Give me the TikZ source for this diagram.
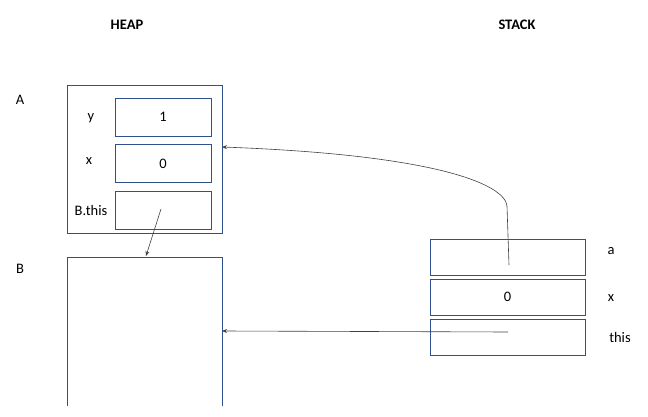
\documentclass[tikz,border=0pt]{standalone}
\usepackage{fontspec}
\setmainfont{Carlito}
\usetikzlibrary{arrows.meta}
\definecolor{boxblue}{HTML}{2F528F}
\definecolor{arrowgray}{HTML}{404040}
\begin{document}
\begin{tikzpicture}[x=1pt,y=-1pt,
  cell/.style={draw=boxblue,line width=0.7pt,minimum width=96pt,minimum height=38pt,inner sep=0pt,font=\fontsize{14.5}{17}\selectfont},
  scell/.style={draw=boxblue,line width=0.7pt,minimum width=155pt,minimum height=36pt,inner sep=0pt,font=\fontsize{14.5}{17}\selectfont},
  lbl/.style={inner sep=0pt,font=\fontsize{14.5}{17}\selectfont},
  head/.style={inner sep=0pt,font=\bfseries\fontsize{14.5}{17}\selectfont},
  ptr/.style={draw=arrowgray,line width=0.6pt,-{Stealth[length=5pt,width=4pt]}}]
\useasboundingbox (0,0) rectangle (648,417);
\node[head] (heap) at (127,25) {HEAP};
\node[head] (stack) at (517,25) {STACK};
\node[lbl] (la) at (20,100) {A};
\node[lbl] (lb) at (20,269) {B};
% object A
\node[draw=boxblue,line width=0.7pt,minimum width=155pt,minimum height=148pt,inner sep=0pt] (A) at (144.5,159) {};
\node[cell] (ay) at (163,117) {1};
\node[cell] (ax) at (163,163.5) {0};
\node[cell] (ab) at (163,210) {};
\node[lbl] (ly) at (91,118) {y};
\node[lbl] (lx) at (89,161) {x};
\node[lbl] (lbt) at (91,211) {B.this};
% object B (open bottom)
\coordinate (bbl) at (67,406);
\coordinate (btl) at (67,257);
\coordinate (btr) at (222,257);
\coordinate (bbr) at (222,406);
\draw[boxblue,line width=0.7pt] (bbl) -- (btl) -- (btr) -- (bbr);
\coordinate (Bright) at (222,331);
\coordinate (Btop) at (146,256);
% stack
\node[scell] (sa) at (507.5,257) {};
\node[scell] (sx) at (507.5,297) {0};
\node[scell] (st) at (507.5,337) {};
\node[lbl] (lsa) at (611,251) {a};
\node[lbl] (lsx) at (611,298) {x};
\node[lbl] (lst) at (620,338) {this};
% pointers
\coordinate (pa) at (509,265);
\coordinate (pt) at (508,332);
\coordinate (pb) at (161,209);
\coordinate (Aright) at (222,147);
\draw[ptr] (pa) -- (507,206) .. controls (505,185) and (440,155) .. (Aright);
\draw[ptr] (pt) -- (Bright);
\draw[ptr] (pb) -- (Btop);
\end{tikzpicture}
\end{document}
